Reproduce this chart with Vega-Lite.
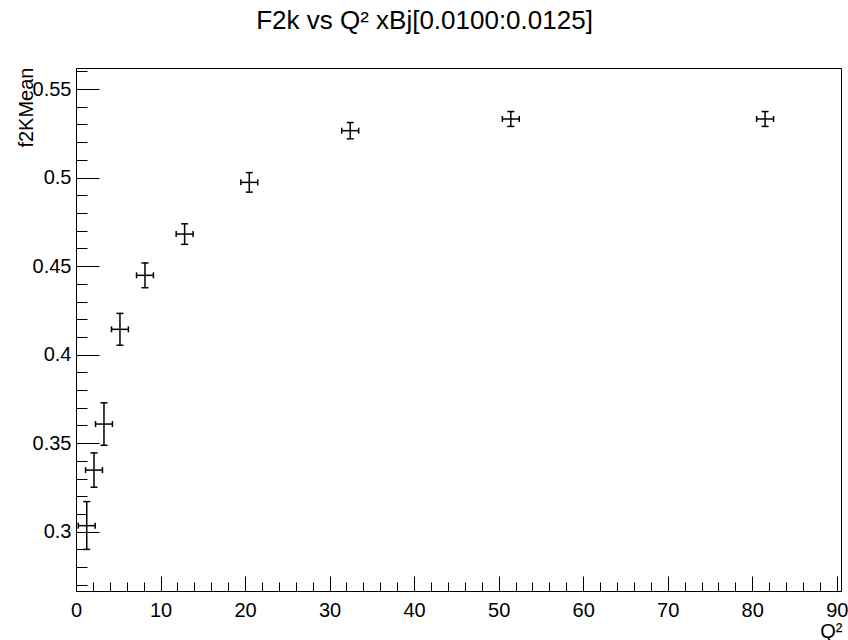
{
  "$schema": "https://vega.github.io/schema/vega-lite/v6.json",
  "width": 765,
  "height": 523,
  "autosize": {"type": "none"},
  "padding": {"left": 76, "top": 68, "right": 7, "bottom": 49},
  "background": "white",
  "config": {
    "font": "Liberation Sans",
    "view": {"stroke": "black", "strokeWidth": 1}
  },
  "title": {
    "text": "F2k vs Q² xBj[0.0100:0.0125]",
    "font": "Liberation Sans",
    "fontSize": 26,
    "fontWeight": "normal",
    "color": "black",
    "anchor": "middle",
    "frame": "group",
    "dx": -34,
    "baseline": "alphabetic",
    "offset": 12
  },
  "data": {"values": [
    {"q2": 1.27, "f2": 0.3034, "xlo": 0.27, "xhi": 2.27, "ylo": 0.290, "yhi": 0.317},
    {"q2": 2.13, "f2": 0.3348, "xlo": 1.13, "xhi": 3.13, "ylo": 0.3251, "yhi": 0.3445},
    {"q2": 3.31, "f2": 0.3608, "xlo": 2.31, "xhi": 4.31, "ylo": 0.3488, "yhi": 0.3728},
    {"q2": 5.20, "f2": 0.4143, "xlo": 4.20, "xhi": 6.20, "ylo": 0.4053, "yhi": 0.4233},
    {"q2": 8.16, "f2": 0.4448, "xlo": 7.16, "xhi": 9.16, "ylo": 0.4378, "yhi": 0.4518},
    {"q2": 12.85, "f2": 0.4681, "xlo": 11.85, "xhi": 13.85, "ylo": 0.4623, "yhi": 0.4739},
    {"q2": 20.5, "f2": 0.4973, "xlo": 19.5, "xhi": 21.5, "ylo": 0.4918, "yhi": 0.5028},
    {"q2": 32.44, "f2": 0.5265, "xlo": 31.44, "xhi": 33.44, "ylo": 0.5219, "yhi": 0.5311},
    {"q2": 51.44, "f2": 0.5331, "xlo": 50.44, "xhi": 52.44, "ylo": 0.5289, "yhi": 0.5373},
    {"q2": 81.52, "f2": 0.5331, "xlo": 80.52, "xhi": 82.52, "ylo": 0.5289, "yhi": 0.5373}
  ]},
  "resolve": {"axis": {"x": "independent", "y": "independent"}},
  "layer": [
    {
      "mark": {"type": "rule", "color": "black", "strokeWidth": 1.5},
      "encoding": {
        "x": {"field": "xlo", "type": "quantitative",
          "scale": {"domain": [0, 90.5], "nice": false, "zero": false},
          "axis": {"orient": "bottom", "values": [0,10,20,30,40,50,60,70,80,90], "format": "d",
            "tickSize": -15, "tickColor": "black", "tickWidth": 1, "domainColor": "black", "domainWidth": 1,
            "grid": false, "labelFont": "Liberation Sans", "labelFontSize": 20, "labelColor": "black", "labelPadding": 24, "labelFlush": false,
            "title": "Q²", "titleFont": "Liberation Sans", "titleFontSize": 20, "titleFontWeight": "normal", "titleColor": "black",
            "titleAnchor": "end", "titleAlign": "right", "titleBaseline": "alphabetic", "titleX": 766, "titleY": 46}},
        "x2": {"field": "xhi"},
        "y": {"field": "f2", "type": "quantitative",
          "scale": {"domain": [0.2665, 0.5619], "nice": false, "zero": false},
          "axis": {"orient": "left", "values": [0.3,0.35,0.4,0.45,0.5,0.55], "format": "~g",
            "tickSize": -23, "tickColor": "black", "tickWidth": 1, "domainColor": "black", "domainWidth": 1,
            "grid": false, "labelFont": "Liberation Sans", "labelFontSize": 20, "labelColor": "black", "labelPadding": 28, "labelFlush": false,
            "title": "f2KMean", "titleFont": "Liberation Sans", "titleFontSize": 20, "titleFontWeight": "normal", "titleColor": "black",
            "titleAngle": -90, "titleAlign": "right", "titleBaseline": "alphabetic", "titleAnchor": "end", "titleX": -44, "titleY": -1}}
      }
    },
    {
      "mark": {"type": "rule", "color": "black", "strokeWidth": 1.5},
      "encoding": {
        "x": {"field": "q2", "type": "quantitative",
          "axis": {"orient": "bottom", "values": [2,4,6,8,12,14,16,18,22,24,26,28,32,34,36,38,42,44,46,48,52,54,56,58,62,64,66,68,72,74,76,78,82,84,86,88],
            "labels": false, "tickSize": -9, "tickColor": "black", "tickWidth": 1, "domain": false, "grid": false, "title": null}},
        "y": {"field": "ylo", "type": "quantitative",
          "axis": {"orient": "left", "values": [0.27,0.28,0.29,0.31,0.32,0.33,0.34,0.36,0.37,0.38,0.39,0.41,0.42,0.43,0.44,0.46,0.47,0.48,0.49,0.51,0.52,0.53,0.54,0.56],
            "labels": false, "tickSize": -11, "tickColor": "black", "tickWidth": 1, "domain": false, "grid": false, "title": null}},
        "y2": {"field": "yhi"}
      }
    },
    {
      "mark": {"type": "tick", "orient": "horizontal", "color": "black", "size": 7, "thickness": 1.5, "opacity": 1},
      "encoding": {
        "x": {"field": "q2", "type": "quantitative", "axis": null},
        "y": {"field": "ylo", "type": "quantitative", "axis": null}
      }
    },
    {
      "mark": {"type": "tick", "orient": "horizontal", "color": "black", "size": 7, "thickness": 1.5, "opacity": 1},
      "encoding": {
        "x": {"field": "q2", "type": "quantitative", "axis": null},
        "y": {"field": "yhi", "type": "quantitative", "axis": null}
      }
    },
    {
      "mark": {"type": "tick", "orient": "vertical", "color": "black", "size": 6, "thickness": 1.5, "opacity": 1},
      "encoding": {
        "x": {"field": "xlo", "type": "quantitative", "axis": null},
        "y": {"field": "f2", "type": "quantitative", "axis": null}
      }
    },
    {
      "mark": {"type": "tick", "orient": "vertical", "color": "black", "size": 6, "thickness": 1.5, "opacity": 1},
      "encoding": {
        "x": {"field": "xhi", "type": "quantitative", "axis": null},
        "y": {"field": "f2", "type": "quantitative", "axis": null}
      }
    }
  ]
}
